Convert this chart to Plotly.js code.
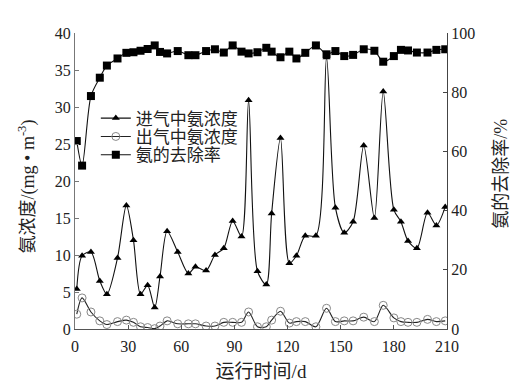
<!DOCTYPE html>
<html>
<head>
<meta charset="utf-8">
<script src="https://cdn.plot.ly/plotly-3.0.1.min.js"></script>
<style>html,body{margin:0;padding:0;background:#fff;}#chart{width:521px;height:389px;}</style>
</head>
<body>
<div id="chart"></div>
<script>
const days = [1, 4, 9, 14, 18, 24, 29, 33, 37, 41, 45, 48, 52, 58, 64, 68, 74, 79, 84, 89, 94, 98, 103, 108, 111, 116, 121, 125, 130, 136, 142, 147, 152, 157, 163, 169, 174, 180, 184, 188, 193, 199, 204, 209];
const inletConc = [5.4, 9.9, 10.4, 6.5, 4.7, 9.6, 16.7, 12.0, 4.7, 5.9, 2.9, 7.1, 13.2, 10.4, 7.5, 8.4, 7.9, 10.0, 10.9, 14.6, 12.5, 30.9, 7.8, 6.0, 15.6, 25.8, 8.9, 9.9, 12.6, 12.6, 36.7, 16.4, 13.0, 14.5, 24.8, 15.0, 32.1, 16.1, 14.5, 11.9, 10.9, 15.7, 14.0, 16.5];
const outletConc = [2.0, 4.2, 2.3, 1.1, 0.6, 1.0, 1.2, 0.9, 0.3, 0.2, 0.05, 0.4, 1.1, 0.7, 0.7, 0.7, 0.4, 0.4, 0.9, 0.9, 0.9, 2.3, 0.3, 0.3, 1.2, 2.4, 0.8, 1.0, 1.0, 0.3, 2.8, 1.0, 1.1, 1.1, 1.6, 1.0, 3.2, 1.5, 1.0, 0.9, 0.9, 1.3, 1.0, 1.1];
const removalRate = [63.5, 55.2, 78.7, 84.9, 89.0, 91.4, 93.3, 93.5, 94.0, 94.6, 95.8, 93.6, 93.1, 93.9, 92.5, 92.5, 93.9, 94.5, 93.4, 95.8, 93.7, 93.1, 93.5, 95.0, 93.7, 91.8, 93.7, 91.4, 93.3, 95.8, 92.8, 93.9, 92.2, 92.6, 94.5, 94.0, 90.3, 92.2, 94.3, 94.1, 93.4, 93.4, 94.3, 94.5];
const names = ['进气中氨浓度', '出气中氨浓度', '氨的去除率'];
const xTitle = '运行时间/d';
const yTitle = '氨浓度/(mg • m<sup>-3</sup>)';
const y2Title = '氨的去除率/%';

const FONT = 'Liberation Serif, Times New Roman, Noto Sans CJK SC, serif';

const traces = [
  {x: days, y: inletConc, name: names[0], type: 'scatter', mode: 'lines+markers', legend: 'legend',
   line: {color: '#111', width: 1.1, shape: 'spline', smoothing: 0.8},
   marker: {symbol: 'triangle-up', size: 7, color: '#000'}},
  {x: days, y: outletConc, name: names[1], type: 'scatter', mode: 'lines+markers', legend: 'legend2',
   line: {color: '#222', width: 1.1, shape: 'spline', smoothing: 0.8},
   marker: {symbol: 'circle-open', size: 8, color: '#888', line: {width: 1, color: '#888'}}},
  {x: days, y: removalRate, name: names[2], type: 'scatter', mode: 'lines+markers', yaxis: 'y2', legend: 'legend3',
   line: {color: '#111', width: 1.1, shape: 'spline', smoothing: 0.8},
   marker: {symbol: 'square', size: 8, color: '#000'}}
];

function leg(y) {
  return {x: 0.056, y: y, xanchor: 'left', yanchor: 'middle', bgcolor: 'rgba(0,0,0,0)',
          font: {family: FONT, size: 17, color: '#222'}};
}

const layout = {
  width: 521, height: 389,
  margin: {l: 75, r: 74, t: 33, b: 60},
  paper_bgcolor: '#fff', plot_bgcolor: '#fff',
  font: {family: FONT, size: 16, color: '#222'},
  showlegend: true,
  legend: leg(0.711),
  legend2: leg(0.649),
  legend3: leg(0.587),
  xaxis: {range: [0, 210], dtick: 30, tick0: 0, showgrid: false, zeroline: false,
          showline: true, linecolor: '#555', linewidth: 1, ticks: 'inside', ticklen: 4, tickcolor: '#555',
          ticklabelstandoff: 3,
          title: {text: xTitle, font: {family: FONT, size: 19, color: '#222'}, standoff: 10}},
  yaxis: {range: [0, 40], dtick: 5, tick0: 0, showgrid: false, zeroline: false,
          showline: true, linecolor: '#777', linewidth: 1, ticks: 'inside', ticklen: 4, tickcolor: '#777'},
  yaxis2: {range: [0, 100], dtick: 20, tick0: 0, overlaying: 'y', side: 'right', showgrid: false, zeroline: false,
           showline: true, linecolor: '#444', linewidth: 1, ticks: 'inside', ticklen: 4, tickcolor: '#444'},
  annotations: [
    {text: yTitle, xref: 'paper', yref: 'paper', x: -0.128, y: 0.483, xanchor: 'center', yanchor: 'middle',
     textangle: -90, showarrow: false, font: {family: FONT, size: 18, color: '#222'}},
    {text: y2Title, xref: 'paper', yref: 'paper', x: 1.145, y: 0.524, xanchor: 'center', yanchor: 'middle',
     textangle: -90, showarrow: false, font: {family: FONT, size: 18, color: '#222'}}
  ]
};

Plotly.newPlot('chart', traces, layout, {staticPlot: true, displayModeBar: false});
</script>
</body>
</html>
